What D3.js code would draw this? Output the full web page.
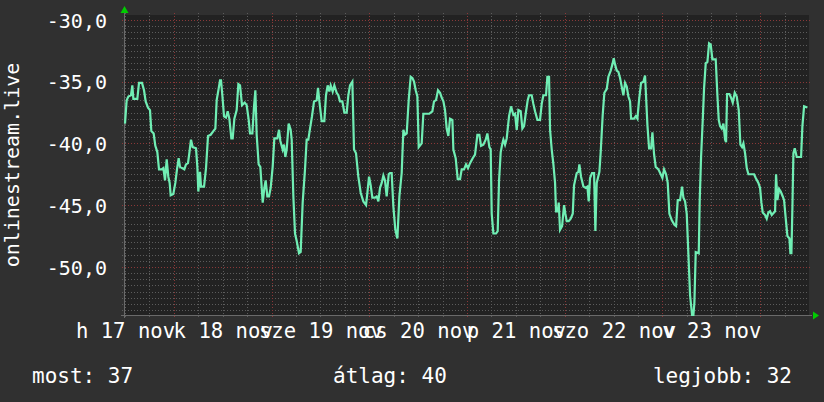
<!DOCTYPE html>
<html><head><meta charset="utf-8">
<script src="https://cdn.jsdelivr.net/npm/d3@7"></script>
<style>
html,body{margin:0;padding:0;background:#303030;}
svg text{font-family:"DejaVu Sans Mono",monospace;fill:#ffffff;}
</style></head>
<body><svg id="c" width="824" height="402"></svg>
<script>
// ---- data ----
const startTime = Date.UTC(2025, 10, 17, 12); // h 17 nov, 12:00
const spanHours = 168;
const hoursFromStart = [0,0.41,0.82,1.47,1.8,2.05,3.03,3.44,4.18,4.67,5.08,5.65,6.14,6.47,7.04,7.45,7.94,8.35,9.01,9.42,9.83,10.24,10.64,10.97,11.22,11.87,12.36,12.77,13.18,13.51,14.0,14.57,14.98,15.47,15.8,16.21,16.62,17.44,17.77,18.01,18.42,18.67,19.41,19.9,20.39,21.04,21.7,22.19,22.52,22.93,23.34,23.58,23.91,24.32,24.81,25.22,25.63,26.12,26.45,26.86,27.43,27.84,28.25,28.74,29.4,29.89,30.38,30.71,31.28,31.69,32.02,32.34,32.83,33.24,33.82,34.23,34.55,34.96,35.37,35.78,36.27,36.68,37.42,37.83,38.16,38.73,39.06,39.38,39.71,40.2,40.69,
40.94,41.35,41.76,42.17,42.74,43.15,43.64,44.21,44.62,45.03,45.44,45.93,46.43,47.08,47.41,47.74,48.31,48.96,49.37,49.78,50.19,50.52,51.01,51.42,51.99,52.4,52.81,53.38,53.88,54.45,54.86,55.27,55.84,56.25,56.74,57.31,57.89,58.54,59.2,59.53,59.94,60.35,60.75,61.41,61.82,62.23,62.64,63.05,63.46,63.86,64.27,64.77,65.09,65.5,65.91,66.4,66.9,67.39,67.96,68.37,68.78,69.19,69.68,70.17,70.58,70.99,71.4,71.81,72.14,72.87,73.28,74.1,74.75,75.08,75.49,75.9,76.39,76.88,77.38,77.79,78.2,78.6,79.01,79.42,79.83,80.41,80.65,81.22,81.72,82.29,82.7,
83.27,83.76,84.25,84.75,85.4,85.97,86.55,87.04,87.45,88.02,88.59,89.0,89.5,89.82,90.07,90.48,91.13,91.54,91.87,92.28,92.69,92.93,93.34,93.75,94.33,94.82,95.39,95.8,96.21,96.62,97.19,97.6,98.01,98.42,98.91,99.24,99.89,100.3,100.71,101.29,101.94,102.35,102.76,103.41,103.74,104.15,104.4,104.81,105.22,105.63,105.87,106.28,106.53,106.85,107.35,107.84,108.16,108.49,108.98,109.47,109.97,110.29,110.95,111.36,111.6,112.01,112.59,113.16,113.57,113.9,114.22,114.71,115.21,115.53,115.86,116.52,116.84,117.33,117.74,118.32,118.73,119.3,119.71,120.04,120.36,120.77,121.18,121.59,122.0,122.41,122.82,123.23,123.64,124.05,
124.3,125.03,125.44,125.85,126.26,126.75,127.33,127.73,127.98,128.31,128.72,129.21,129.54,129.95,130.35,131.01,131.58,131.99,132.4,132.89,133.3,133.71,134.28,134.94,135.35,135.76,136.33,136.82,137.15,137.56,137.97,138.38,138.79,139.28,139.61,139.85,140.18,140.92,141.16,141.49,141.9,142.23,142.64,143.05,143.46,143.86,144.27,145.09,145.5,145.83,146.16,146.57,146.98,147.39,147.63,147.88,148.45,148.86,149.27,149.76,150.25,150.74,151.15,151.56,151.89,152.3,152.71,153.12,154.51,154.92,155.57,155.98,156.31,156.64,157.21,157.62,158.03,158.44,158.85,159.67,159.91,160.24,160.65,161.06,161.55,161.88,162.29,162.7,163.19,163.43,163.68,163.93,164.17,164.5,164.99,166.05,166.38,166.79,167.61];
const signalValues = [-38.4,-36.5,-36.2,-36.1,-35.3,-36.4,-36.4,-35.1,-35.1,-35.7,-36.6,-37.1,-37.3,-39.0,-39.2,-40.2,-40.7,-42.1,-42.1,-42.0,-43.0,-41.3,-42.7,-43.2,-44.2,-44.1,-43.2,-42.1,-41.2,-41.9,-42.0,-42.1,-41.7,-41.6,-40.8,-39.7,-40.3,-40.4,-41.9,-43.9,-42.3,-43.5,-43.5,-42.0,-39.4,-39.3,-39.0,-38.8,-36.5,-35.7,-34.9,-34.9,-36.1,-37.8,-37.9,-37.4,-38.0,-39.6,-39.6,-38.0,-37.3,-35.2,-35.3,-36.9,-36.7,-36.9,-38.1,-39.2,-39.2,-37.0,-35.7,-39.3,-41.7,-41.9,-44.8,-43.6,-43.0,-44.3,-44.3,-43.6,-41.9,-39.6,-39.6,-38.9,-39.8,-40.5,-40.1,-41.1,-40.5,-38.4,-38.9,
-39.7,-44.3,-47.3,-47.9,-48.9,-48.8,-44.8,-42.1,-39.7,-39.7,-38.8,-37.8,-36.6,-36.5,-35.5,-36.6,-38.2,-38.2,-36.1,-35.3,-35.8,-35.3,-35.8,-35.3,-35.9,-36.1,-36.6,-36.6,-37.5,-37.5,-36.1,-35.3,-35.0,-40.5,-40.8,-42.7,-44.0,-44.7,-45.0,-44.0,-42.7,-43.4,-44.4,-44.4,-44.3,-44.7,-43.6,-43.2,-42.6,-43.0,-44.3,-42.5,-42.4,-42.4,-45.1,-47.0,-47.7,-44.3,-42.4,-38.9,-39.3,-39.2,-36.5,-34.6,-34.7,-35.0,-35.7,-36.2,-40.3,-40.0,-37.6,-37.6,-37.6,-37.5,-37.4,-36.6,-36.5,-35.7,-35.9,-36.3,-36.6,-37.3,-38.8,-39.4,-38.0,-38.1,-40.5,-41.2,-42.9,-42.9,-42.1,
-42.1,-41.7,-42.0,-41.6,-41.2,-40.9,-39.3,-39.3,-40.2,-40.1,-39.7,-39.2,-40.3,-40.5,-45.7,-47.3,-47.3,-47.1,-43.0,-40.7,-40.0,-39.7,-40.1,-39.6,-37.8,-37.0,-37.7,-37.6,-38.9,-37.3,-37.4,-38.8,-38.6,-37.6,-36.5,-36.1,-36.1,-36.8,-37.4,-38.1,-38.1,-36.8,-36.1,-36.1,-34.6,-34.6,-38.9,-40.5,-41.7,-43.2,-45.5,-45.5,-44.8,-47.0,-46.7,-45.0,-45.7,-46.3,-46.3,-46.1,-45.7,-43.4,-42.4,-42.3,-41.7,-42.7,-43.5,-43.6,-43.5,-44.7,-42.8,-42.4,-42.4,-47.1,-43.2,-42.3,-40.7,-37.7,-35.9,-35.6,-34.6,-34.1,-33.6,-33.1,-33.6,-34.1,-34.2,-34.7,-35.4,-36.1,-35.1,-35.4,-36.2,-36.6,
-38.0,-38.0,-37.8,-38.0,-36.5,-35.1,-35.0,-34.5,-36.2,-38.5,-40.4,-40.4,-39.1,-40.9,-41.9,-42.1,-42.5,-42.8,-42.1,-42.5,-43.2,-45.7,-46.2,-46.6,-46.7,-44.6,-44.6,-43.5,-44.4,-44.7,-45.7,-49.0,-52.3,-53.9,-53.9,-52.9,-48.8,-48.9,-44.6,-41.1,-38.1,-35.5,-33.5,-33.4,-31.9,-32.0,-33.2,-33.2,-36.1,-38.1,-38.6,-38.8,-38.4,-39.7,-39.9,-36.0,-36.0,-36.3,-36.7,-35.9,-36.2,-37.3,-40.1,-40.3,-40.0,-40.8,-42.0,-42.5,-42.5,-42.8,-43.2,-43.6,-44.8,-45.6,-45.8,-46.1,-45.6,-45.5,-45.8,-45.5,-42.5,-44.6,-43.7,-43.9,-44.3,-44.6,-46.1,-47.5,-47.7,-48.9,-48.9,-45.1,-40.8,-40.4,-41.1,-41.1,-38.6,-37.0,-37.1];
const yDomain = [-53.9, -29.6];
const yTickValues = [-50, -45, -40, -35, -30];
const dayAbbr = ["v","h","k","sze","cs","p","szo"];
const monthAbbr = ["jan","feb","már","ápr","máj","jún","júl","aug","szep","okt","nov","dec"];
const yTitle = "onlinestream.live";
const legendItems = [{label:"most", value:37}, {label:"átlag", value:40}, {label:"legjobb", value:32}];

// ---- chart ----
const svg = d3.select("#c");
const L = 124, R = 809, T = 15, B = 315;
const x = d3.scaleUtc().domain([startTime, startTime + spanHours*3600e3]).range([125, R]);
const y = d3.scaleLinear().domain(yDomain).range([B, T]);
const fmtLocale = d3.formatLocale({decimal:",", thousands:" ", grouping:[3], currency:["","Ft"], minus:"-"});
const fy = fmtLocale.format(".1f");

svg.append("rect").attr("width",824).attr("height",402).attr("fill","#303030");
svg.append("rect").attr("x",L).attr("y",T).attr("width",R-L).attr("height",B-T).attr("fill","#222222");

const [t0, t1] = x.domain();
// minor horizontal grid (0.5)
const minorY = d3.range(Math.ceil(yDomain[0]*2)/2, yDomain[1], 0.5).filter(v => Math.abs(v % 5) > 1e-6);
svg.append("g").selectAll("line").data(minorY).join("line")
  .attr("x1",L-2).attr("x2",R).attr("y1",d=>Math.round(y(d))+0.5).attr("y2",d=>Math.round(y(d))+0.5)
  .attr("stroke","#5c5c5c").attr("stroke-width",1).attr("stroke-dasharray","1,2");
// minor vertical grid (6h)
const minorX = d3.utcHour.every(6).range(t0, t1).filter(d => d.getUTCHours() !== 0);
svg.append("g").selectAll("line").data(minorX).join("line")
  .attr("x1",d=>Math.round(x(d))+0.5).attr("x2",d=>Math.round(x(d))+0.5).attr("y1",T-2).attr("y2",B+2)
  .attr("stroke","#5c5c5c").attr("stroke-width",1).attr("stroke-dasharray","1,2");
// major horizontal grid
svg.append("g").selectAll("line").data(yTickValues).join("line")
  .attr("x1",L-2).attr("x2",R+2).attr("y1",d=>Math.round(y(d))+0.5).attr("y2",d=>Math.round(y(d))+0.5)
  .attr("stroke","#8a3838").attr("stroke-width",1).attr("stroke-dasharray","1,2");
// major vertical grid (days)
const majorX = d3.utcDay.range(t0, t1);
svg.append("g").selectAll("line").data(majorX).join("line")
  .attr("x1",d=>Math.round(x(d))+0.5).attr("x2",d=>Math.round(x(d))+0.5).attr("y1",T-2).attr("y2",B+2)
  .attr("stroke","#8a3838").attr("stroke-width",1).attr("stroke-dasharray","1,2");

// axes lines
svg.append("line").attr("x1",L+0.5).attr("x2",L+0.5).attr("y1",T-3).attr("y2",B+3).attr("stroke","#6a6a6a");
svg.append("line").attr("x1",L-3).attr("x2",R+3).attr("y1",B+0.5).attr("y2",B+0.5).attr("stroke","#6a6a6a");
// arrows
svg.append("path").attr("d",`M${L-3.5},13 L${L+4.5},13 L${L+0.5},6 Z`).attr("fill","#00cc00");
svg.append("path").attr("d",`M${R+4},${B-3.5} L${R+4},${B+4.5} L${R+10},${B+0.5} Z`).attr("fill","#00cc00");

// y axis labels
const yAxis = d3.axisLeft(y).tickValues(yTickValues).tickFormat(fy).tickSize(0).tickPadding(0);
const gy = svg.append("g").attr("transform","translate(107,0)").call(yAxis);
gy.select(".domain").remove();
gy.selectAll("text").attr("font-size",20).attr("fill","#fff").attr("font-family","DejaVu Sans Mono").attr("dy","0.36em");

// x axis labels at noon
const noonTicks = d3.utcDay.range(t0, t1).map(d => new Date(+d + 12*3600e3));
const labelTicks = [new Date(t0)].concat(noonTicks).filter(d => +d < +t1 - 3600e3);
const xAxis = d3.axisBottom(x).tickValues(labelTicks).tickSize(0).tickPadding(0)
  .tickFormat(d => `${dayAbbr[d.getUTCDay()]} ${d.getUTCDate()} ${monthAbbr[d.getUTCMonth()]}`);
const gx = svg.append("g").attr("transform","translate(0,323)").call(xAxis);
gx.select(".domain").remove();
gx.selectAll("text").attr("font-size",20.6).attr("fill","#fff").attr("font-family","DejaVu Sans Mono").attr("dy","0.73em");

// y title
svg.append("text").attr("transform",`translate(19,${(T+B)/2}) rotate(-90)`)
  .attr("text-anchor","middle").attr("font-size",20).text(yTitle);

// line
const pts = hoursFromStart.map((h,i) => ({t: new Date(startTime + h*3600e3), v: signalValues[i]}));
svg.append("path").datum(pts)
  .attr("d", d3.line().x(d=>x(d.t)).y(d=>y(d.v)))
  .attr("fill","none").attr("stroke","#70eeb4").attr("stroke-width",2.2).attr("stroke-linejoin","miter");

// legend
const lg = svg.append("g").attr("font-size",21);
lg.append("text").attr("x",32).attr("y",383).text(`${legendItems[0].label}: ${legendItems[0].value}`);
lg.append("text").attr("x",333).attr("y",383).text(`${legendItems[1].label}: ${legendItems[1].value}`);
lg.append("text").attr("x",792).attr("y",383).attr("text-anchor","end").text(`${legendItems[2].label}: ${legendItems[2].value}`);
</script></body></html>
